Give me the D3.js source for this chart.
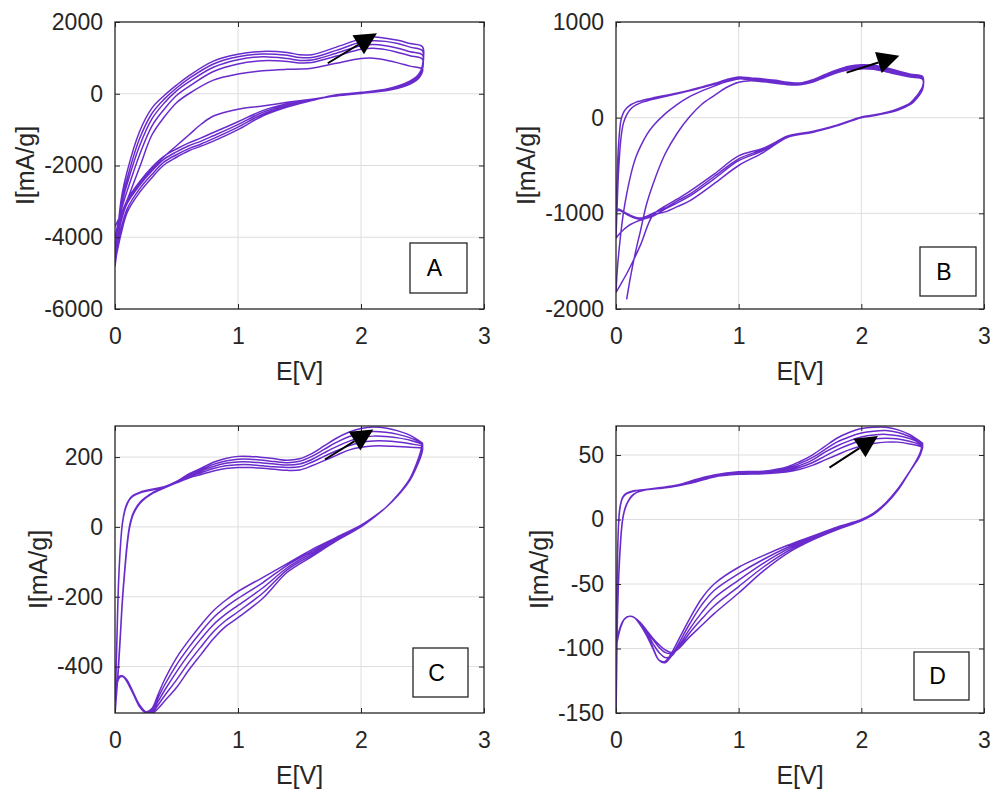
<!DOCTYPE html>
<html>
<head>
<meta charset="utf-8">
<script src="https://cdn.jsdelivr.net/npm/d3@7"></script>
<style>
  body { margin: 0; background: #fff; }
  svg { display: block; font-family: "Liberation Sans", Arial, sans-serif; }
</style>
</head>
<body>
<div id="chart"></div>
<script>
// ---- shared axis values ----
const xTicks = [0, 1, 2, 3];
const ticksA = [-6000, -4000, -2000, 0, 2000];
const ticksB = [-2000, -1000, 0, 1000];
const ticksC = [-400, -200, 0, 200];
const ticksD = [-150, -100, -50, 0, 50];

// ---- panel A : potential sweep (V) and current per cycle (mA/g) ----
const potUpA = [0, 0.05, 0.1, 0.2, 0.3, 0.4, 0.5, 0.6, 0.8, 1.0, 1.2, 1.4, 1.5, 1.6, 1.8, 2.0, 2.1, 2.2, 2.3, 2.4, 2.5];
const potDownA = [2.5, 2.48, 2.45, 2.4, 2.3, 2.2, 2.0, 1.8, 1.6, 1.4, 1.2, 1.0, 0.8, 0.7, 0.6, 0.5, 0.4, 0.3, 0.2, 0.1, 0.05, 0];
const curUpA = [
  [-3700, -3350, -2950, -2050, -1150, -650, -250, 0, 380, 550, 640, 680, 690, 710, 850, 980, 990, 940, 860, 770, 690],
  [-4000, -3250, -2700, -1700, -900, -430, -50, 200, 620, 830, 920, 900, 860, 870, 1050, 1240, 1270, 1230, 1150, 1060, 960],
  [-4300, -3150, -2500, -1450, -700, -260, 80, 330, 740, 950, 1030, 980, 930, 940, 1130, 1340, 1370, 1340, 1270, 1170, 1080],
  [-4550, -3050, -2350, -1250, -550, -150, 160, 420, 830, 1030, 1110, 1070, 1010, 1010, 1210, 1440, 1480, 1460, 1400, 1300, 1200],
  [-4800, -2950, -2150, -1050, -400, -50, 240, 500, 910, 1100, 1180, 1150, 1090, 1090, 1300, 1530, 1580, 1550, 1490, 1400, 1310]
];
const curDownA = [
  [620, 480, 370, 270, 150, 80, 10, -60, -150, -240, -340, -430, -620, -850, -1150, -1450, -1750, -2100, -2500, -3000, -3400, -4000],
  [680, 510, 400, 300, 170, 95, 20, -50, -160, -280, -470, -780, -1080, -1230, -1370, -1540, -1740, -2050, -2450, -2950, -3400, -4300],
  [720, 540, 430, 320, 190, 105, 30, -45, -170, -310, -520, -860, -1170, -1320, -1450, -1620, -1820, -2150, -2550, -3050, -3550, -4550],
  [760, 570, 450, 340, 200, 115, 35, -40, -180, -340, -570, -930, -1250, -1400, -1530, -1700, -1900, -2250, -2650, -3200, -3750, -4800],
  [800, 600, 470, 360, 215, 125, 40, -30, -190, -370, -620, -1000, -1320, -1460, -1590, -1770, -1980, -2340, -2750, -3300, -3900, -4700]
];

// ---- panel B ----
const potUpB = [0, 0.01, 0.02, 0.04, 0.06, 0.087, 0.12, 0.16, 0.2, 0.25, 0.3, 0.4, 0.5, 0.6, 0.7, 0.8, 0.9, 1.0, 1.1, 1.2, 1.3, 1.4, 1.5, 1.6, 1.7, 1.8, 1.9, 2.0, 2.1, 2.2, 2.3, 2.4, 2.5];
const potDownB = [2.5, 2.47, 2.43, 2.4, 2.3, 2.2, 2.1, 2.0, 1.8, 1.6, 1.4, 1.2, 1.0, 0.8, 0.6, 0.5, 0.4, 0.3, 0.2, 0.1, 0.03, 0];
const curUpB = [
  [null, null, null, null, null, -1900, -1650, -1400, -1180, -900, -700, -380, -160, 10, 140, 230, 315, 370, 385, 375, 360, 345, 345, 370, 420, 470, 500, 510, 505, 480, 450, 425, 400],
  [-1826, -1600, -1450, -1200, -1000, -800, -600, -420, -300, -180, -90, 40, 140, 220, 280, 330, 375, 405, 395, 385, 370, 355, 350, 380, 430, 480, 515, 525, 520, 495, 465, 435, 410],
  [-1260, -900, -580, -220, -60, 30, 90, 130, 155, 175, 192, 220, 250, 280, 315, 350, 390, 415, 405, 395, 380, 362, 356, 388, 440, 492, 527, 540, 535, 510, 478, 445, 420],
  [-980, -600, -300, -30, 50, 100, 135, 160, 175, 192, 207, 232, 257, 287, 322, 357, 397, 425, 415, 405, 390, 370, 362, 395, 448, 500, 538, 553, 548, 522, 488, 455, 430]
];
const curDownB = [
  [300, 230, 170, 140, 80, 45, 20, 0, -85, -150, -200, -320, -400, -590, -770, -850, -925, -1020, -1330, -1600, -1760, -1826],
  [320, 250, 185, 150, 90, 50, 25, 5, -80, -145, -195, -345, -450, -640, -820, -890, -955, -1030, -1070, -1130, -1210, -1260],
  [310, 240, 180, 145, 85, 48, 22, 0, -85, -155, -205, -365, -500, -690, -870, -930, -985, -1015, -1060, -1020, -970, -980],
  [330, 260, 195, 155, 95, 55, 28, 8, -78, -150, -190, -330, -430, -615, -800, -870, -945, -1000, -1050, -1010, -960, -950]
];

// ---- panel C ----
const potUpC = [0, 0.01, 0.02, 0.03, 0.045, 0.06, 0.08, 0.1, 0.12, 0.15, 0.2, 0.25, 0.3, 0.4, 0.5, 0.6, 0.7, 0.8, 0.9, 1.0, 1.1, 1.2, 1.3, 1.4, 1.5, 1.6, 1.7, 1.8, 1.9, 2.0, 2.1, 2.2, 2.3, 2.4, 2.5];
const potDownC = [2.5, 2.48, 2.45, 2.4, 2.3, 2.2, 2.1, 2.0, 1.8, 1.6, 1.4, 1.2, 1.0, 0.9, 0.8, 0.7, 0.6, 0.5, 0.4, 0.35, 0.3, 0.25, 0.2, 0.15, 0.1, 0.07, 0.04, 0.02, 0];
const curUpC = [
  [-540, -490, -445, -395, -305, -215, -125, -50, 0, 37, 66, 83, 95, 111, 126, 140, 150, 160, 167, 170, 170, 168, 165, 162, 163, 175, 190, 205, 220, 228, 232, 232, 230, 228, 225],
  [-480, -465, -435, -385, -298, -208, -118, -43, 6, 41, 69, 85, 97, 112, 127, 143, 155, 167, 175, 178, 178, 175, 172, 170, 172, 185, 202, 218, 232, 242, 246, 246, 243, 238, 230],
  [-470, -390, -255, -148, -50, 8, 46, 66, 79, 89, 97, 102, 106, 113, 128, 146, 160, 173, 182, 186, 186, 183, 180, 177, 180, 193, 212, 230, 245, 256, 260, 259, 255, 248, 235],
  [-485, -400, -262, -152, -52, 9, 47, 67, 80, 90, 98, 103, 107, 114, 129, 149, 164, 179, 189, 194, 194, 191, 187, 184, 188, 202, 222, 242, 258, 269, 273, 271, 265, 255, 238],
  [-495, -405, -265, -152, -50, 11, 49, 69, 81, 91, 99, 104, 108, 115, 130, 152, 168, 185, 196, 202, 202, 199, 195, 191, 195, 210, 232, 254, 271, 282, 286, 283, 275, 262, 240]
];
const curDownC = [
  [220, 195, 170, 135, 90, 55, 28, 5, -30, -65, -105, -145, -185, -210, -240, -280, -325, -375, -440, -480, -520, -530, -515, -480, -445, -430, -428, -440, -480],
  [225, 198, 172, 136, 90, 55, 27, 4, -32, -70, -110, -160, -205, -230, -260, -300, -345, -395, -455, -490, -525, -532, -515, -478, -443, -428, -427, -438, -470],
  [230, 202, 175, 137, 91, 55, 27, 3, -34, -75, -117, -175, -225, -250, -280, -320, -365, -415, -470, -500, -528, -533, -514, -477, -442, -428, -428, -440, -485],
  [235, 206, 177, 138, 91, 55, 26, 1, -37, -80, -123, -190, -243, -268, -300, -343, -388, -438, -485, -510, -532, -532, -512, -476, -441, -428, -429, -442, -495],
  [240, 210, 180, 140, 92, 55, 26, 0, -40, -85, -130, -205, -260, -285, -320, -365, -410, -460, -500, -520, -535, -530, -510, -475, -440, -428, -430, -445, -500]
];

// ---- panel D ----
const potUpD = [0, 0.005, 0.01, 0.02, 0.03, 0.045, 0.06, 0.08, 0.1, 0.13, 0.17, 0.24, 0.35, 0.5, 0.65, 0.8, 1.0, 1.2, 1.4, 1.5, 1.6, 1.7, 1.8, 1.9, 2.0, 2.1, 2.2, 2.3, 2.4, 2.45, 2.5];
const potDownD = [2.5, 2.48, 2.45, 2.4, 2.3, 2.2, 2.1, 2.0, 1.8, 1.6, 1.4, 1.2, 1.0, 0.8, 0.7, 0.6, 0.5, 0.45, 0.4, 0.35, 0.3, 0.25, 0.2, 0.15, 0.11, 0.07, 0.04, 0.02, 0];
const curUpD = [
  [-155, -120, -85, -50, -30, -8, 3, 10, 14, 18, 21, 23, 24.5, 26, 29, 33, 35, 35.5, 37, 39, 42, 46, 50, 54, 57, 59, 60, 60, 58.5, 57.5, 56],
  [-95, -65, -38, -5, 8, 15, 18, 20, 21, 22, 22.5, 23, 24, 26, 29.5, 33.5, 35.5, 36, 38, 40.5, 44, 49, 54, 58, 61, 62.5, 63, 62.5, 60.5, 59, 57],
  [-96, -68, -40, -6, 7, 14.5, 17.5, 19.5, 20.5, 21.5, 22.5, 23, 24.2, 26.2, 30, 34, 36, 36.5, 39, 42, 46, 52, 57, 61, 64, 65.5, 66, 65, 62.5, 60.5, 58],
  [-97, -88, -74, -48, -28, -7, 3.5, 10.5, 14.5, 18.5, 21, 23, 24.5, 26.5, 30.5, 34, 36.5, 37, 40, 43.5, 48, 54, 60, 64, 67, 68.5, 69, 67.5, 64, 61.5, 58.5],
  [-98, -70, -42, -6, 8, 15, 18, 20, 21, 22, 22.5, 23.2, 24.6, 26.8, 31, 34.5, 37, 37.5, 41, 45, 50, 56.5, 63, 67.5, 70.5, 71.5, 71.5, 69.5, 65.5, 62.5, 59]
];
const curDownD = [
  [56, 50, 45, 38, 24, 13, 5, 0, -6, -13, -20, -28, -37, -50, -61, -77, -95, -104, -110, -109, -100, -90, -82, -76, -75, -77, -82, -88, -95],
  [57, 50.5, 45.5, 38, 23.5, 12.5, 4.5, 0, -6.5, -13.5, -21.5, -31, -42, -55, -66, -81, -98, -106, -111, -109, -99, -89, -81, -76, -75, -77, -82, -88, -96],
  [58, 51, 45.5, 38, 23.5, 12.5, 4.5, -0.5, -7, -14.5, -23, -34, -47, -61, -72, -85, -100, -106, -107, -103, -96, -88, -81, -76, -75, -77, -83, -89, -97],
  [58.5, 51.5, 46, 38, 23, 12, 4, -1, -7.5, -15, -24.5, -37, -52, -67, -77, -88, -101, -104, -103, -99, -93, -87, -80, -76, -75, -77, -83, -90, -98],
  [59, 52, 46, 38, 23, 12, 4, -1, -8, -16, -26, -40, -57, -73, -82, -91, -101, -103, -101, -97, -92, -86, -80, -76, -75, -77, -83, -90, -100]
];

// arrows: [tail, tip] in (E, I)
const arrowA = [[1.73, 850], [2.13, 1685]];
const arrowB = [[1.88, 471], [2.31, 646]];
const arrowC = [[1.707, 193], [2.10, 279]];
const arrowD = [[1.74, 40.2], [2.135, 64.7]];

const width = 990, height = 789;
const lineColor = '#6a2bcc';
const axisColor = '#262626';

const panels = [
  { label: 'A', x: 115, y: 22, w: 369, h: 287, yDomain: [-6000, 2000], yTicks: ticksA,
    potUp: potUpA, potDown: potDownA, up: curUpA, down: curDownA, arrow: arrowA, box: [295, 221, 57, 50] },
  { label: 'B', x: 616, y: 22, w: 368, h: 287, yDomain: [-2000, 1000], yTicks: ticksB,
    potUp: potUpB, potDown: potDownB, up: curUpB, down: curDownB, arrow: arrowB, box: [304, 225, 56, 49] },
  { label: 'C', x: 115, y: 426, w: 369, h: 287, yDomain: [-533, 289], yTicks: ticksC,
    potUp: potUpC, potDown: potDownC, up: curUpC, down: curDownC, arrow: arrowC, box: [298, 222, 55, 49] },
  { label: 'D', x: 616, y: 426, w: 368, h: 287, yDomain: [-150, 72.5], yTicks: ticksD,
    potUp: potUpD, potDown: potDownD, up: curUpD, down: curDownD, arrow: arrowD, box: [298, 226, 55, 48] }
];

const svg = d3.select('#chart').append('svg')
  .attr('width', width)
  .attr('height', height);

const fmt = d => String(d);

function drawPanel(p) {
  const g = svg.append('g').attr('transform', `translate(${p.x},${p.y})`);
  const x = d3.scaleLinear().domain([0, 3]).range([0, p.w]);
  const y = d3.scaleLinear().domain(p.yDomain).range([p.h, 0]);

  // GRID
  g.append('g').selectAll('line')
    .data(xTicks.slice(1, -1))
    .join('line')
    .attr('x1', d => x(d)).attr('x2', d => x(d))
    .attr('y1', 0).attr('y2', p.h)
    .attr('stroke', '#dedede').attr('stroke-width', 1);
  g.append('g').selectAll('line')
    .data(p.yTicks.filter(t => y(t) > 1 && y(t) < p.h - 1))
    .join('line')
    .attr('x1', 0).attr('x2', p.w)
    .attr('y1', d => y(d)).attr('y2', d => y(d))
    .attr('stroke', '#dedede').attr('stroke-width', 1);

  // CURVES (all cycles as one continuous trace)
  const pts = [];
  p.up.forEach((cyc, k) => {
    p.potUp.forEach((e, i) => { if (cyc[i] != null) pts.push([e, cyc[i]]); });
    p.potDown.forEach((e, i) => pts.push([e, p.down[k][i]]));
  });
  const clipId = 'clip' + p.label;
  g.append('clipPath').attr('id', clipId)
    .append('rect').attr('width', p.w).attr('height', p.h);
  const line = d3.line()
    .x(d => x(d[0]))
    .y(d => y(d[1]))
    .curve(d3.curveCatmullRom.alpha(0.5));
  g.append('path')
    .attr('clip-path', `url(#${clipId})`)
    .attr('d', line(pts))
    .attr('fill', 'none')
    .attr('stroke', lineColor)
    .attr('stroke-width', 1.5)
    .attr('stroke-linejoin', 'round');

  // AXES (ticks inward on all four sides)
  const bottom = g.append('g')
    .attr('transform', `translate(0,${p.h})`)
    .call(d3.axisBottom(x).tickValues(xTicks).tickSize(-5).tickSizeOuter(0).tickPadding(19).tickFormat(fmt));
  const left = g.append('g')
    .call(d3.axisLeft(y).tickValues(p.yTicks).tickSize(-5).tickSizeOuter(0).tickPadding(12).tickFormat(fmt));
  g.append('g')
    .call(d3.axisTop(x).tickValues(xTicks).tickSize(-5).tickSizeOuter(0).tickFormat(''));
  g.append('g')
    .attr('transform', `translate(${p.w},0)`)
    .call(d3.axisRight(y).tickValues(p.yTicks).tickSize(-5).tickSizeOuter(0).tickFormat(''));
  g.selectAll('.domain').remove();
  g.selectAll('.tick line').attr('stroke', axisColor);
  [bottom, left].forEach(a => a.selectAll('text')
    .attr('fill', axisColor)
    .attr('font-size', '23px')
    .attr('font-family', '"Liberation Sans", Arial, sans-serif'));

  g.append('rect')
    .attr('width', p.w).attr('height', p.h)
    .attr('fill', 'none')
    .attr('stroke', axisColor)
    .attr('stroke-width', 1.3);

  // AXIS LABELS
  g.append('text')
    .attr('x', p.w / 2)
    .attr('y', p.h + 71)
    .attr('text-anchor', 'middle')
    .attr('fill', axisColor)
    .attr('font-size', '25px')
    .text('E[V]');

  const lb = left.node().getBBox();
  g.append('text')
    .attr('transform', `translate(${lb.x - 10},${p.h / 2}) rotate(-90)`)
    .attr('text-anchor', 'middle')
    .attr('fill', axisColor)
    .attr('font-size', '25px')
    .text('I[mA/g]');

  // ARROW
  const [t0, t1] = p.arrow;
  const ax0 = x(t0[0]), ay0 = y(t0[1]), ax1 = x(t1[0]), ay1 = y(t1[1]);
  const len = Math.hypot(ax1 - ax0, ay1 - ay0);
  const ux = (ax1 - ax0) / len, uy = (ay1 - ay0) / len;
  const headL = 22, headW = 11;
  const bx = ax1 - ux * headL, by = ay1 - uy * headL;
  g.append('line')
    .attr('x1', ax0).attr('y1', ay0)
    .attr('x2', bx).attr('y2', by)
    .attr('stroke', '#000').attr('stroke-width', 2);
  g.append('path')
    .attr('d', `M${ax1},${ay1}L${bx - uy * headW},${by + ux * headW}L${bx + uy * headW},${by - ux * headW}Z`)
    .attr('fill', '#000');

  // LETTER BOX
  const [bx0, by0, bw, bh] = p.box;
  g.append('rect')
    .attr('x', bx0).attr('y', by0)
    .attr('width', bw).attr('height', bh)
    .attr('fill', '#fff')
    .attr('stroke', axisColor)
    .attr('stroke-width', 1.3);
  g.append('text')
    .attr('x', bx0 + bw / 2 - 4)
    .attr('y', by0 + bh / 2)
    .attr('dy', '0.36em')
    .attr('text-anchor', 'middle')
    .attr('fill', '#000')
    .attr('font-size', '23px')
    .text(p.label);
}

panels.forEach(drawPanel);
</script>
</body>
</html>
